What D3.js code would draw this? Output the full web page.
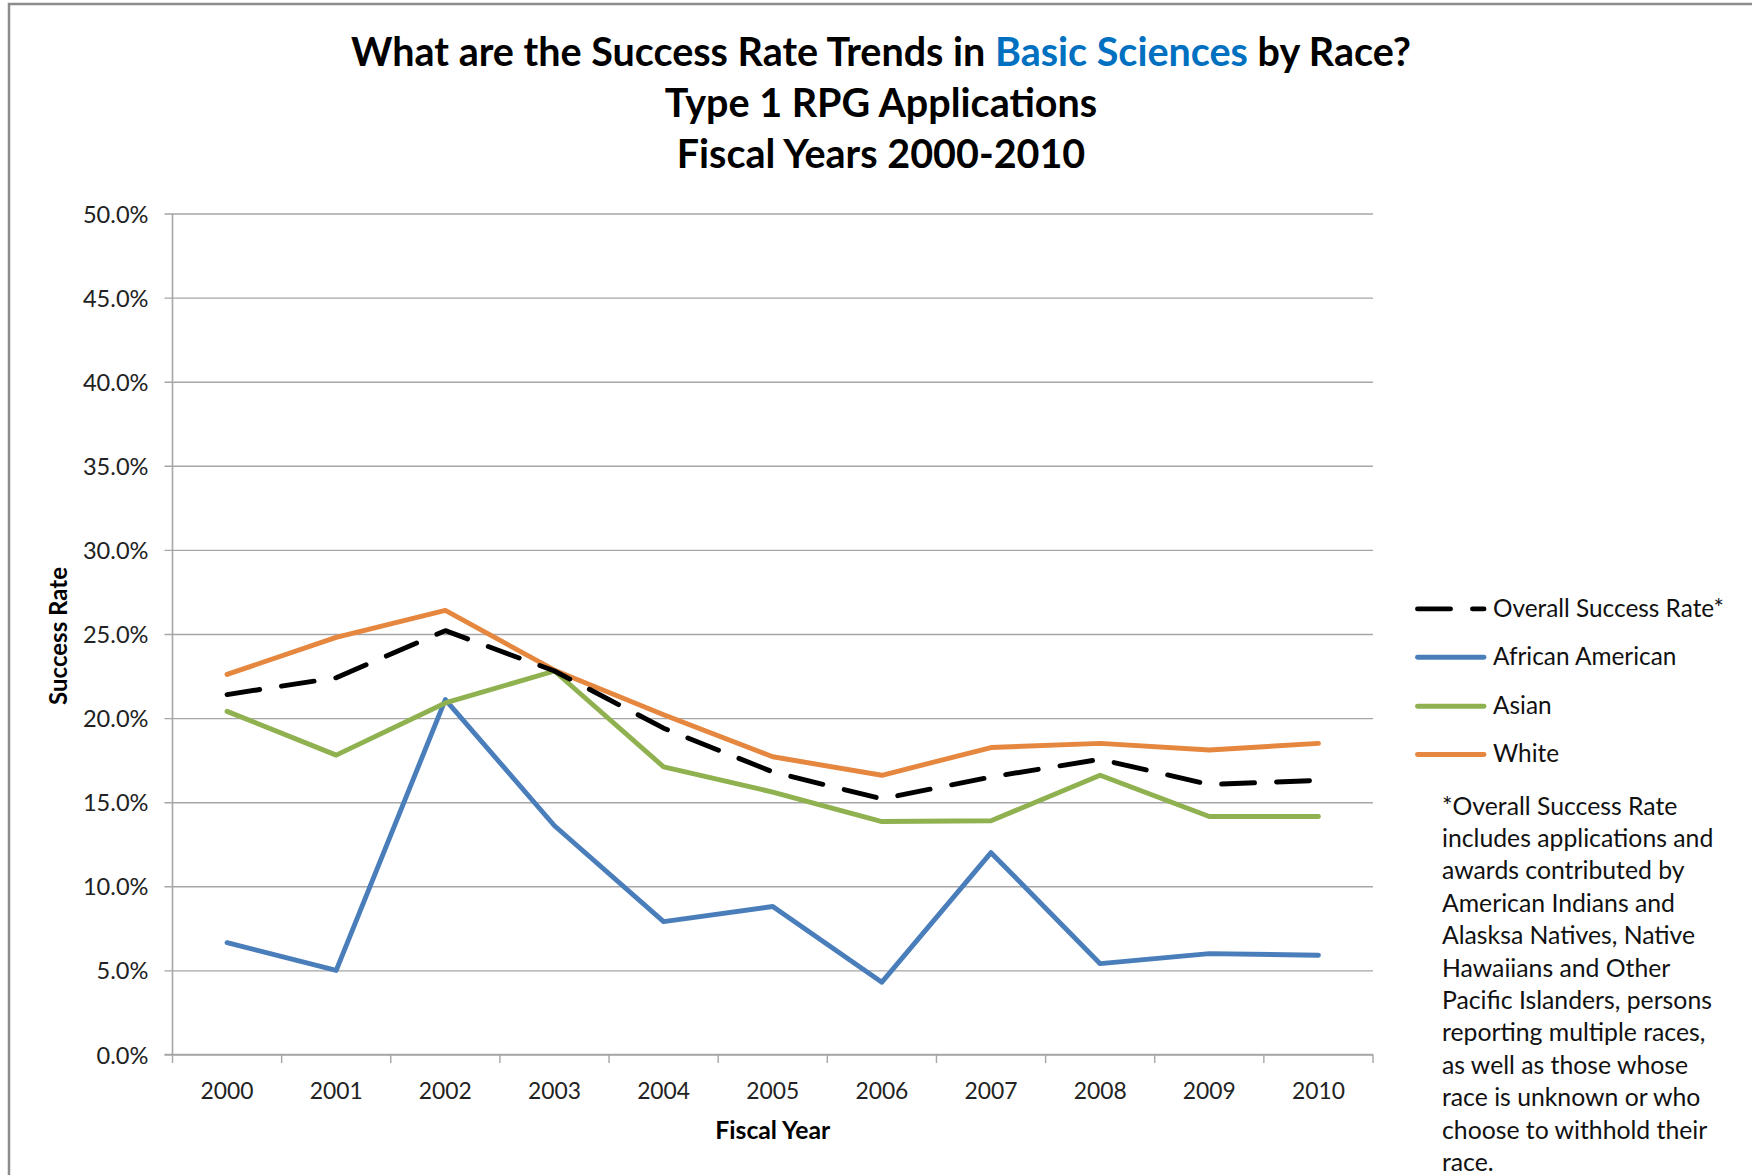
<!DOCTYPE html>
<html>
<head>
<meta charset="utf-8">
<script src="https://cdn.jsdelivr.net/npm/d3@7"></script>
<style>
  html, body { margin: 0; padding: 0; background: #fff; }
  svg { display: block; }
  text { font-family: Lato, "Open Sans", sans-serif; }
</style>
</head>
<body>
<svg id="chart" width="1752" height="1175"></svg>
<script>
// ---------- DATA ----------
const years = ["2000","2001","2002","2003","2004","2005","2006","2007","2008","2009","2010"];
const overall  = [21.4, 22.4, 25.2, 22.8, 19.4, 16.8, 15.2, 16.5, 17.55, 16.05, 16.3];
const african  = [6.65, 5.0, 21.1, 13.6, 7.9, 8.8, 4.3, 12.0, 5.4, 6.0, 5.9];
const asian    = [20.4, 17.8, 20.9, 22.8, 17.1, 15.6, 13.85, 13.9, 16.6, 14.15, 14.15];
const white    = [22.6, 24.8, 26.4, 22.85, 20.2, 17.7, 16.6, 18.25, 18.5, 18.1, 18.5];
const seriesNames = ["Overall Success Rate*", "African American", "Asian", "White"];
const yTicks = [0, 5, 10, 15, 20, 25, 30, 35, 40, 45, 50];
const titleLines = [
  [["What are the Success Rate Trends in ", "#000"], ["Basic Sciences", "#0070C0"], [" by Race?", "#000"]],
  [["Type 1 RPG Applications", "#000"]],
  [["Fiscal Years 2000-2010", "#000"]]
];
const footnote = [
  "*Overall Success Rate",
  "includes applications and",
  "awards contributed by",
  "American Indians and",
  "Alasksa Natives, Native",
  "Hawaiians and Other",
  "Pacific Islanders, persons",
  "reporting multiple races,",
  "as well as those whose",
  "race is unknown or who",
  "choose to withhold their",
  "race."
];

// ---------- STYLE ----------
const colors = ["#000000", "#4A7EBB", "#8FB14F", "#E5873F"];
const dashes = ["33,22", null, null, null];
const gridColor = "#A6A6A6";
const lineW = 4.9;

const svg = d3.select("#chart");
svg.append("rect").attr("width", 1752).attr("height", 1175).attr("fill", "#fff");

// measure helper to fit font sizes to reference widths
function fitSize(str, weight, target) {
  const t = svg.append("text").attr("font-size", 100).attr("font-weight", weight).text(str);
  const w = t.node().getComputedTextLength();
  t.remove();
  return 100 * target / w;
}

// outer chart border (top and left visible)
svg.append("path")
  .attr("d", "M9,1175 L9,4 L1752,4")
  .attr("fill", "none").attr("stroke", "#8C8C8C").attr("stroke-width", 2.5);

// ---------- SCALES ----------
const pLeft = 172.5, pRight = 1373, pTop = 213.5, pBottom = 1054.5;
const x = d3.scaleBand().domain(years).range([pLeft, pRight]).padding(0);
const y = d3.scaleLinear().domain([0, 50]).range([pBottom, pTop]);
const cx = d => x(d) + x.bandwidth() / 2;

// ---------- TITLE ----------
const titleSize = fitSize(titleLines[0].map(s => s[0]).join(""), 700, 1060);
const titleBase = [65.7, 116.5, 167.5];
titleLines.forEach((parts, i) => {
  const t = svg.append("text")
    .attr("x", 881).attr("y", titleBase[i])
    .attr("text-anchor", "middle")
    .attr("font-size", titleSize).attr("font-weight", 700);
  parts.forEach(p => t.append("tspan").attr("fill", p[1]).text(p[0]));
});

// ---------- AXES ----------
const tickSize = fitSize("50.0%", 400, 65.6);
const yAxis = d3.axisLeft(y).tickValues(yTicks).tickSize(8)
  .tickFormat(d => d.toFixed(1) + "%");
const gy = svg.append("g").attr("transform", `translate(${pLeft},0)`).call(yAxis);
gy.select(".domain").remove();
gy.selectAll(".tick line")
  .attr("x1", pRight - pLeft).attr("x2", -8)
  .attr("stroke", gridColor).attr("stroke-width", 1.4);
gy.selectAll(".tick text")
  .attr("x", -24).attr("dy", "0.36em")
  .attr("font-size", tickSize).attr("font-family", "Lato")
  .attr("fill", "#222");

// y axis line
svg.append("line").attr("x1", pLeft).attr("x2", pLeft).attr("y1", pTop).attr("y2", pBottom)
  .attr("stroke", gridColor).attr("stroke-width", 1.6);

// x axis
const xAxis = d3.axisBottom(x).tickSize(0).tickPadding(0);
const gx = svg.append("g").attr("transform", `translate(0,${pBottom})`).call(xAxis);
gx.select(".domain").remove();
const xLabSize = fitSize("2000", 400, 53);
gx.selectAll(".tick text")
  .attr("y", 44).attr("dy", 0)
  .attr("font-size", xLabSize).attr("font-family", "Lato").attr("fill", "#222");

svg.append("line").attr("x1", pLeft - 8).attr("x2", pRight).attr("y1", pBottom).attr("y2", pBottom)
  .attr("stroke", gridColor).attr("stroke-width", 1.6);
const boundaries = years.map(d => x(d)).concat([x.range()[1]]);
svg.append("g").selectAll("line").data(boundaries).join("line")
  .attr("x1", d => d).attr("x2", d => d)
  .attr("y1", pBottom).attr("y2", pBottom + 8.5)
  .attr("stroke", gridColor).attr("stroke-width", 1.4);

// axis titles
svg.append("text")
  .attr("x", (pLeft + pRight) / 2).attr("y", 1139)
  .attr("text-anchor", "middle").attr("font-weight", 700)
  .attr("font-size", fitSize("Fiscal Year", 700, 115)).text("Fiscal Year");
svg.append("text")
  .attr("transform", `translate(67,${(pTop + pBottom) / 2 + 2}) rotate(-90)`)
  .attr("text-anchor", "middle").attr("font-weight", 700)
  .attr("font-size", fitSize("Success Rate", 700, 138)).text("Success Rate");

// ---------- LINES ----------
const allSeries = [overall, african, asian, white];
const line = d3.line().x((d, i) => cx(years[i])).y(d => y(d));
// draw order: African, Asian, White, Overall on top
[1, 2, 3, 0].forEach(k => {
  svg.append("path")
    .datum(allSeries[k])
    .attr("d", line)
    .attr("fill", "none")
    .attr("stroke", colors[k])
    .attr("stroke-width", lineW)
    .attr("stroke-linejoin", "round")
    .attr("stroke-linecap", "round")
    .attr("stroke-dasharray", dashes[k]);
});

// ---------- LEGEND ----------
const legSize = fitSize("Overall Success Rate*", 400, 231);
const legBase = [616.7, 665, 714, 762.3];
seriesNames.forEach((name, k) => {
  const ly = legBase[k] - 7.8;
  svg.append("line")
    .attr("x1", 1417.5).attr("x2", 1484)
    .attr("y1", ly).attr("y2", ly)
    .attr("stroke", colors[k]).attr("stroke-width", lineW)
    .attr("stroke-linecap", "round")
    .attr("stroke-dasharray", dashes[k]);
  svg.append("text")
    .attr("x", 1493).attr("y", legBase[k])
    .attr("font-size", legSize).attr("fill", "#111").text(name);
});

// ---------- FOOTNOTE ----------
const fnSize = fitSize("includes applications and", 400, 271.5);
footnote.forEach((s, i) => {
  svg.append("text")
    .attr("x", 1442).attr("y", 814.5 + i * 32.4)
    .attr("font-size", fnSize).attr("fill", "#111").text(s);
});
</script>
</body>
</html>
